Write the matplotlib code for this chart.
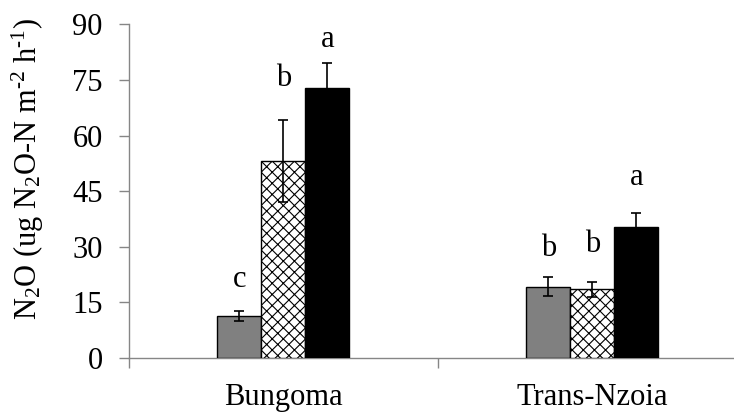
import matplotlib
matplotlib.use("Agg")
import matplotlib.pyplot as plt
import numpy as np

plt.rcParams["font.family"] = "Liberation Serif"
plt.rcParams["mathtext.fontset"] = "custom"
plt.rcParams["mathtext.rm"] = "Liberation Serif"
plt.rcParams["mathtext.it"] = "Liberation Serif:italic"
plt.rcParams["hatch.linewidth"] = 0.8

# data
sites = ["Bungoma", "Trans-Nzoia"]
grey_vals = [11.4, 19.2]
grey_err = [1.4, 2.6]
hatch_vals = [53.2, 18.5]
hatch_err = [11.0, 2.1]
black_vals = [72.7, 35.4]
black_err = [7.0, 3.8]
grey_letters = ["c", "b"]
hatch_letters = ["b", "b"]
black_letters = ["a", "a"]
grey_lpos = [19.2, 27.5]
hatch_lpos = [73.4, 28.7]
black_lpos = [84.0, 46.7]
yticks = [0, 15, 30, 45, 60, 75, 90]

fig = plt.figure(figsize=(7.34, 4.15), dpi=100)
ax = fig.add_axes([0.1757, 0.1373, 0.842, 0.804])

x = np.arange(len(sites))
w = 0.1424

series = [
    (grey_vals, grey_err, grey_letters, grey_lpos, -w, "#808080", None),
    (hatch_vals, hatch_err, hatch_letters, hatch_lpos, 0, "white", "xxx"),
    (black_vals, black_err, black_letters, black_lpos, w, "black", None),
]
for vals, errs, letters, lpos, off, col, hatch in series:
    ax.bar(x + off, vals, width=w, color=col, edgecolor="black",
           linewidth=1.0, hatch=hatch, zorder=2)
    ax.errorbar(x + off, vals, yerr=errs, fmt="none", ecolor="black",
                elinewidth=1.2, capsize=3.5, capthick=1.2, zorder=3)
    for xi, let, ly in zip(x + off, letters, lpos):
        ax.text(xi, ly, let, ha="center", va="baseline", fontsize=22)

ax.set_xlim(-0.5, 1.5)
ax.set_ylim(0, 90)
ax.set_yticks(yticks)
ax.set_yticklabels([str(t) for t in yticks])

ax.set_xticks([-0.5, 0.5, 1.5])
ax.set_xticklabels([])
ax.set_xticks(x, minor=True)
ax.set_xticklabels(sites, minor=True)

for s in ["top", "right"]:
    ax.spines[s].set_visible(False)
for s in ["left", "bottom"]:
    ax.spines[s].set_color("#868686")
    ax.spines[s].set_linewidth(1.0)
    ax.spines[s].set_zorder(1)

ax.tick_params(axis="y", direction="out", length=7, width=1.0,
               color="#868686", labelsize=22, pad=12)
ax.tick_params(axis="x", which="major", direction="out", length=7,
               width=1.0, color="#868686")
ax.tick_params(axis="x", which="minor", length=0, labelsize=22, pad=18)

fig.text(28 / 734, 0.593, "N$_2$O (ug N$_2$O-N m$^{\u20102}$ h$^{\u20101}$)",
         rotation=90, ha="center", va="center", fontsize=22)

fig.savefig("out.png", dpi=100)
